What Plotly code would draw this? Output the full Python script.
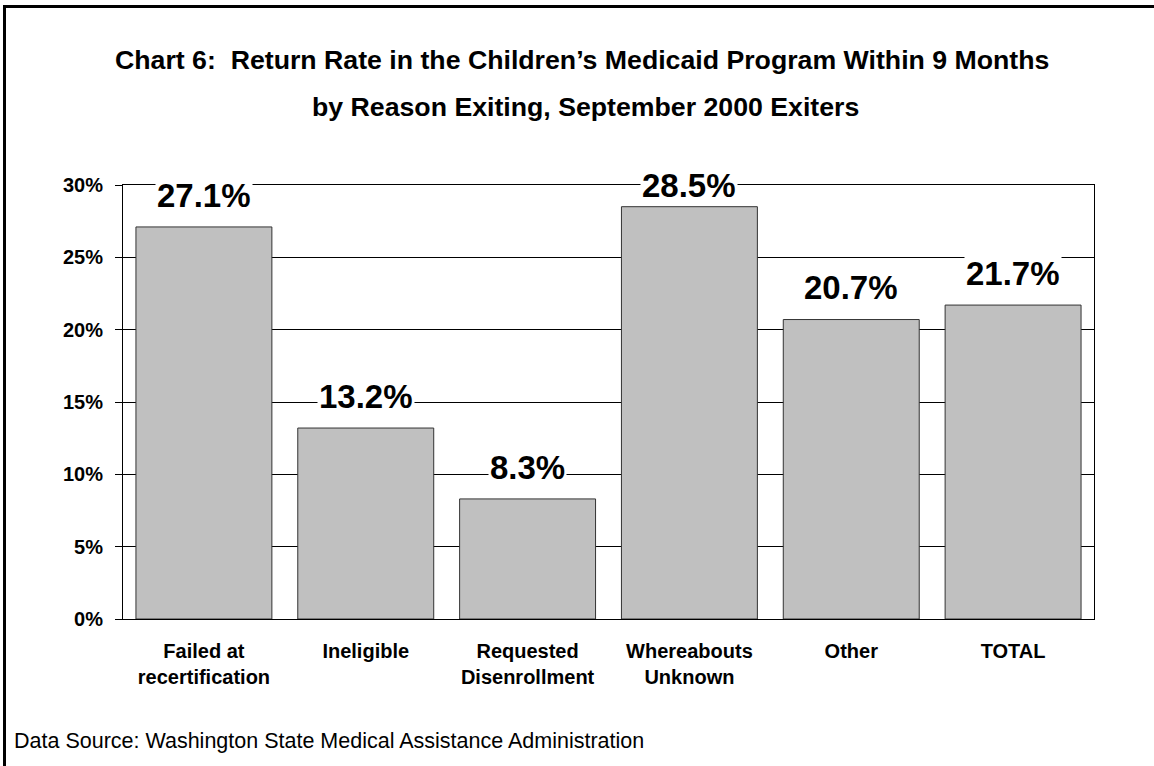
import plotly.graph_objects as go

# Return rate within 9 months, by reason for exiting (September 2000 exiters)
categories = ["Failed at<br>recertification", "Ineligible", "Requested<br>Disenrollment",
              "Whereabouts<br>Unknown", "Other", "TOTAL"]
return_rate = [27.1, 13.2, 8.3, 28.5, 20.7, 21.7]
y_ticks = [0, 5, 10, 15, 20, 25, 30]
y_tick_labels = [f"{t}%" for t in y_ticks]

FONT = "Arial, 'Liberation Sans', Helvetica, sans-serif"
W, H = 1154, 766
L, R, T = 123, 60, 185
PLOT_BOTTOM = 619
B = H - PLOT_BOTTOM
PW, PH = W - L - R, PLOT_BOTTOM - T


def px_x(px):
    return (px - L) / PW


def px_y(py):
    return (PLOT_BOTTOM - py) / PH


fig = go.Figure()
fig.add_trace(go.Bar(
    x=categories,
    y=return_rate,
    marker=dict(color="#C0C0C0", line=dict(color="#333333", width=1)),
    hoverinfo="x+y",
))

y_max = y_ticks[-1]
annotations = []
for cat, v in zip(categories, return_rate):
    annotations.append(dict(
        x=cat, y=min(v + 2.2, y_max), xref="x", yref="y",
        text=f"<b>{v}%</b>", showarrow=False,
        xanchor="center", yanchor="middle",
        font=dict(family=FONT, size=33, color="#000000"),
        bgcolor="#FFFFFF", borderpad=1,
    ))

annotations += [
    dict(x=px_x(582), y=px_y(59.5), xref="paper", yref="paper",
         text="<b>Chart 6:  Return Rate in the Children\u2019s Medicaid Program Within 9 Months</b>",
         showarrow=False, xanchor="center", yanchor="middle",
         font=dict(family=FONT, size=26.7, color="#000000")),
    dict(x=px_x(585), y=px_y(107.5), xref="paper", yref="paper",
         text="<b>by Reason Exiting, September 2000 Exiters</b>",
         showarrow=False, xanchor="center", yanchor="middle",
         font=dict(family=FONT, size=26.7, color="#000000")),
    dict(x=px_x(12), y=px_y(741), xref="paper", yref="paper",
         text="Data Source: Washington State Medical Assistance Administration",
         showarrow=False, xanchor="left", yanchor="middle",
         font=dict(family=FONT, size=21.5, color="#000000")),
]

# frame around the whole chart: left and top edges, as one open path
fx0, fy0 = px_x(4.5), px_y(6.5)
path = (f"M {fx0:.5f},{px_y(H + 20):.5f} L {fx0:.5f},{fy0:.5f} "
        f"L {px_x(W + 20):.5f},{fy0:.5f}")
shapes = [dict(type="path", xref="paper", yref="paper", path=path,
               line=dict(color="#000000", width=3), fillcolor="rgba(0,0,0,0)",
               layer="below")]

fig.update_layout(
    width=W, height=H,
    margin=dict(l=L, r=R, t=T, b=B, pad=0),
    paper_bgcolor="#FFFFFF", plot_bgcolor="#FFFFFF",
    bargap=0.16,
    showlegend=False,
    annotations=annotations,
    shapes=shapes,
    xaxis=dict(
        showline=True, linecolor="#000000", linewidth=1, mirror=True,
        showgrid=False, ticks="", ticklabelstandoff=14,
        tickfont=dict(family=FONT, size=20, color="#000000", weight="bold"),
    ),
    yaxis=dict(
        range=[0, y_max], tickmode="array", tickvals=y_ticks, ticktext=y_tick_labels,
        showline=True, linecolor="#000000", linewidth=1, mirror=True,
        showgrid=True, gridcolor="#000000", gridwidth=1, zeroline=False,
        ticks="outside", ticklen=7, tickcolor="#000000", tickwidth=1,
        ticklabelstandoff=8,
        tickfont=dict(family=FONT, size=20, color="#000000", weight="bold"),
    ),
)

fig.write_html("out.html", config={"displayModeBar": False})
